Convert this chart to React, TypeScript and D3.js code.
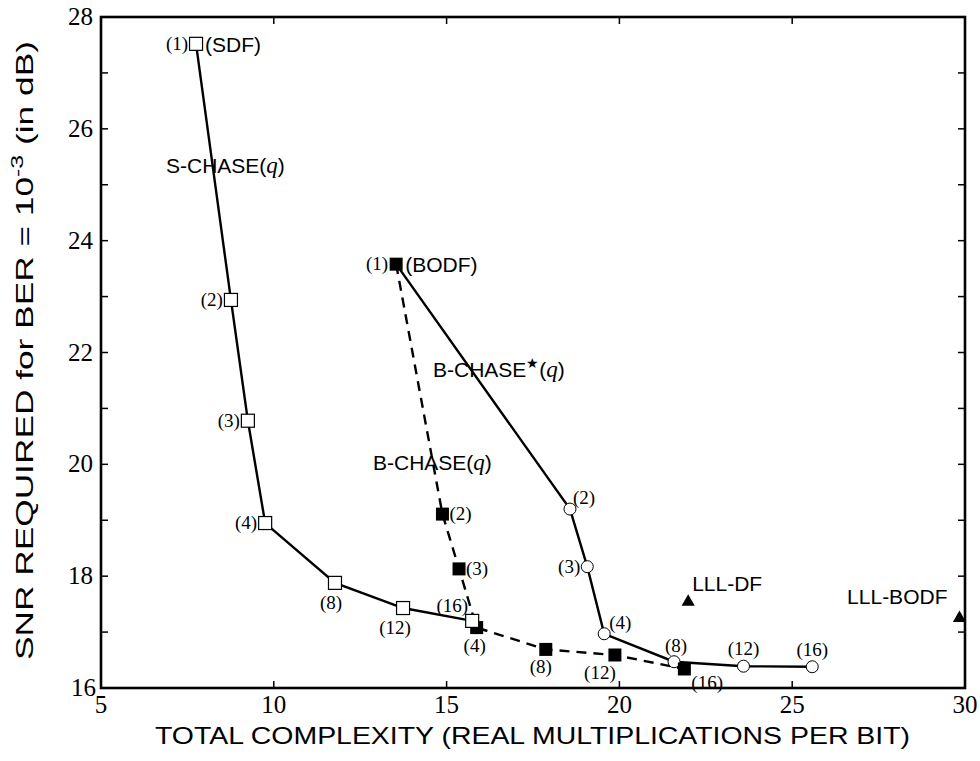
import * as d3 from "d3";

// S-CHASE(q): open squares, solid line
const sChaseQ = ["(1)", "(2)", "(3)", "(4)", "(8)", "(12)", "(16)"];
const sChaseX = [7.75, 8.76, 9.25, 9.75, 11.77, 13.74, 15.74];
const sChaseY = [27.52, 22.94, 20.78, 18.95, 17.88, 17.43, 17.2];

// B-CHASE(q): filled squares, dashed line
const bChaseQ = ["(1)", "(2)", "(3)", "(4)", "(8)", "(12)", "(16)"];
const bChaseX = [13.54, 14.88, 15.36, 15.87, 17.87, 19.87, 21.88];
const bChaseY = [23.58, 19.11, 18.13, 17.08, 16.69, 16.59, 16.34];

// B-CHASE*(q): open circles, solid line (starts at the BODF point)
const bStarQ = ["(2)", "(3)", "(4)", "(8)", "(12)", "(16)"];
const bStarX = [18.57, 19.07, 19.56, 21.58, 23.59, 25.58];
const bStarY = [19.2, 18.17, 16.97, 16.47, 16.39, 16.38];

// LLL points
const lllNames = ["LLL-DF", "LLL-BODF"];
const lllX = [21.99, 29.84];
const lllY = [17.54, 17.25];

const xTicks = [5, 10, 15, 20, 25, 30];
const yTicks = [16, 18, 20, 22, 24, 26, 28];

const W = 980;
const H = 761;
const left = 101;
const right = 965;
const top = 17;
const bottom = 688;

const serif = "'Liberation Serif', 'DejaVu Serif', serif";
const sans = "'Liberation Sans', Arial, sans-serif";

// label placement: [anchor, dx, dy]
const sLayout: [string, number, number][] = [
  ["end", -8, 6], ["end", -8, 6], ["end", -8, 6], ["end", -8, 6],
  ["middle", -4, 26], ["middle", -8, 26], ["end", -4, -9],
];
const bLayout: [string, number, number][] = [
  ["end", -8, 6], ["start", 7, 6], ["start", 7, 6], ["middle", -2, 24],
  ["middle", -5, 24], ["middle", -15, 24], ["start", 7, 20],
];
const starLayout: [string, number, number][] = [
  ["start", 3, -5], ["end", -7, 6], ["start", 5, -5],
  ["middle", 2, -10], ["middle", 0, -11], ["middle", 0, -11],
];

export default function App() {
  const x = d3.scaleLinear().domain([5, 30]).range([left, right]);
  const y = d3.scaleLinear().domain([16, 28]).range([bottom, top]);
  const line = d3
    .line<[number, number]>()
    .x((d) => x(d[0]))
    .y((d) => y(d[1]));

  const sPts: [number, number][] = sChaseX.map((v, i) => [v, sChaseY[i]]);
  const bPts: [number, number][] = bChaseX.map((v, i) => [v, bChaseY[i]]);
  const starPts: [number, number][] = [
    [bChaseX[0], bChaseY[0]],
    ...bStarX.map((v, i) => [v, bStarY[i]] as [number, number]),
  ];
  const tri = d3.symbol(d3.symbolTriangle, 75)();
  const sq = 13;

  const ptLabel = (
    px: number,
    py: number,
    text: string,
    lay: [string, number, number],
    key: string
  ) => (
    <text
      key={key}
      x={x(px) + lay[1]}
      y={y(py) + lay[2]}
      textAnchor={lay[0] as any}
      fontFamily={serif}
      fontSize={19}
    >
      {text}
    </text>
  );

  return (
    <svg width={W} height={H} style={{ position: "absolute", left: 0, top: 0 }}>
      <rect width={W} height={H} fill="#fff" />

      {/* inner ticks */}
      {d3.range(17, 28).map((v) => (
        <g key={"yt" + v}>
          <line x1={left} x2={left + 7} y1={y(v)} y2={y(v)} stroke="#000" strokeWidth={1.5} />
          <line x1={right} x2={right - 7} y1={y(v)} y2={y(v)} stroke="#000" strokeWidth={1.5} />
        </g>
      ))}
      {xTicks.slice(1, -1).map((v) => (
        <g key={"xt" + v}>
          <line x1={x(v)} x2={x(v)} y1={bottom} y2={bottom - 7} stroke="#000" strokeWidth={1.5} />
          <line x1={x(v)} x2={x(v)} y1={top} y2={top + 7} stroke="#000" strokeWidth={1.5} />
        </g>
      ))}

      <rect
        x={left}
        y={top}
        width={right - left}
        height={bottom - top}
        fill="none"
        stroke="#000"
        strokeWidth={2.6}
      />

      {yTicks.map((v) => (
        <text
          key={"yl" + v}
          x={left - 8 + (v === 16 ? 3 : 0)}
          y={y(v) + 8}
          textAnchor="end"
          fontFamily={serif}
          fontSize={25}
        >
          {v}
        </text>
      ))}
      {xTicks.map((v) => (
        <text
          key={"xl" + v}
          x={x(v)}
          y={bottom + 25}
          textAnchor="middle"
          fontFamily={serif}
          fontSize={25}
        >
          {v}
        </text>
      ))}

      <text
        x={155}
        y={744}
        fontFamily={sans}
        fontSize={24}
        textLength={755}
        lengthAdjust="spacingAndGlyphs"
      >
        TOTAL COMPLEXITY (REAL MULTIPLICATIONS PER BIT)
      </text>
      <text
        transform={`translate(33, 660) rotate(-90) scale(1.47, 1)`}
        fontFamily={sans}
        fontSize={24}
      >
        SNR REQUIRED for BER = 10
        <tspan dy={-10} fontSize={17}>-3</tspan>
        <tspan dy={10}> (in dB)</tspan>
      </text>

      {/* lines */}
      <path d={line(sPts) || ""} fill="none" stroke="#000" strokeWidth={2.4} />
      <path
        d={line(bPts) || ""}
        fill="none"
        stroke="#000"
        strokeWidth={2.4}
        strokeDasharray="10,7"
      />
      <path d={line(starPts) || ""} fill="none" stroke="#000" strokeWidth={2.4} />

      {/* markers */}
      {bStarX.map((v, i) => (
        <circle
          key={"c" + i}
          cx={x(v)}
          cy={y(bStarY[i])}
          r={6}
          fill="#fff"
          stroke="#000"
          strokeWidth={1}
        />
      ))}
      {bChaseX.map((v, i) => (
        <rect
          key={"b" + i}
          x={x(v) - sq / 2}
          y={y(bChaseY[i]) - sq / 2}
          width={sq}
          height={sq}
          fill="#000"
        />
      ))}
      {sChaseX.map((v, i) => (
        <rect
          key={"s" + i}
          x={x(v) - sq / 2}
          y={y(sChaseY[i]) - sq / 2}
          width={sq}
          height={sq}
          fill="#fff"
          stroke="#000"
          strokeWidth={1.2}
        />
      ))}
      {lllX.map((v, i) => (
        <path
          key={"t" + i}
          d={tri || ""}
          transform={`translate(${x(v)}, ${y(lllY[i])})`}
          fill="#000"
        />
      ))}

      {/* point labels */}
      {sChaseQ.map((t, i) => ptLabel(sChaseX[i], sChaseY[i], t, sLayout[i], "sl" + i))}
      {bChaseQ.map((t, i) => ptLabel(bChaseX[i], bChaseY[i], t, bLayout[i], "bl" + i))}
      {bStarQ.map((t, i) => ptLabel(bStarX[i], bStarY[i], t, starLayout[i], "cl" + i))}

      {/* annotations */}
      <text x={x(sChaseX[0]) + 9} y={y(sChaseY[0]) + 8} fontFamily={sans} fontSize={21}>
        (SDF)
      </text>
      <text x={x(bChaseX[0]) + 9} y={y(bChaseY[0]) + 8} fontFamily={sans} fontSize={21}>
        (BODF)
      </text>
      <text x={166} y={y(25.21)} fontFamily={sans} fontSize={21}>
        S-CHASE(<tspan fontFamily={serif} fontStyle="italic" fontSize={23}>q</tspan>)
      </text>
      <text x={433} y={y(21.56)} fontFamily={sans} fontSize={21}>
        B-CHASE
        <tspan dy={-9} fontSize={14}>★</tspan>
        <tspan dy={9}>(</tspan>
        <tspan fontFamily={serif} fontStyle="italic" fontSize={23}>q</tspan>)
      </text>
      <text x={373} y={y(19.9)} fontFamily={sans} fontSize={21}>
        B-CHASE(<tspan fontFamily={serif} fontStyle="italic" fontSize={23}>q</tspan>)
      </text>
      <text x={x(lllX[0]) + 4} y={y(lllY[0]) - 11} fontFamily={sans} fontSize={21}>
        {lllNames[0]}
      </text>
      <text
        x={x(lllX[1]) - 12}
        y={y(lllY[1]) - 14}
        textAnchor="end"
        fontFamily={sans}
        fontSize={21}
      >
        {lllNames[1]}
      </text>
    </svg>
  );
}
